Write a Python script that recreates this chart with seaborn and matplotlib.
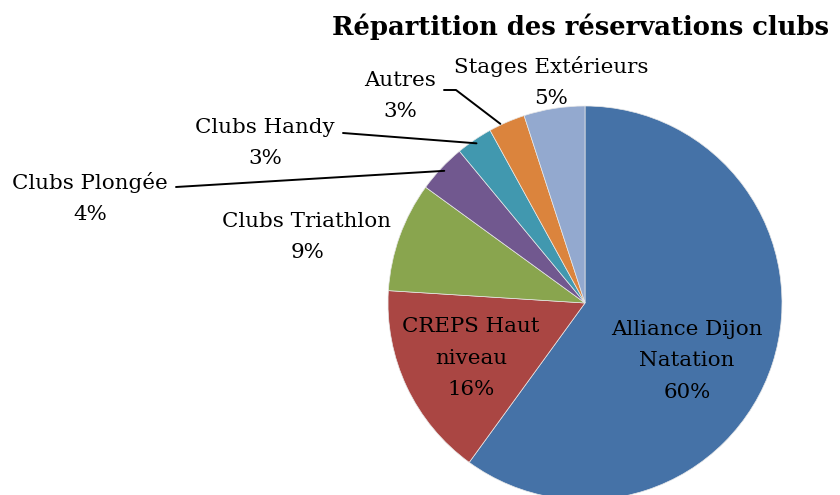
import numpy as np
import matplotlib
matplotlib.use("Agg")
import matplotlib.pyplot as plt
import seaborn as sns

categories = ["Alliance Dijon\nNatation", "CREPS Haut\nniveau", "Clubs Triathlon",
              "Clubs Plongée", "Clubs Handy", "Autres", "Stages Extérieurs"]
values = [60, 16, 9, 4, 3, 3, 5]
pct_labels = ["60%", "16%", "9%", "4%", "3%", "3%", "5%"]
colors = ["#4572A7", "#AA4643", "#89A54E", "#71588F", "#4198AF", "#DB843D", "#93A9CF"]
title = "Répartition des réservations clubs"

sns.set_theme(style="white")
plt.rcParams["font.family"] = ["DejaVu Serif"]

W, H = 840, 495
fig = plt.figure(figsize=(8.4, 4.95), dpi=100)
ax = fig.add_axes([0, 0, 1, 1])

cx, cy, R = 585, H - 303, 197
wedges, _ = ax.pie(values, colors=colors, startangle=90, counterclock=False,
                   center=(cx, cy), radius=R, frame=True,
                   wedgeprops=dict(linewidth=0.5, edgecolor="#e8e8e8"))
ax.set_xlim(0, W)
ax.set_ylim(0, H)
ax.set_aspect("equal")
ax.axis("off")

# label layout (pixel positions from top-left)
label_pos = [(687, 361), (471, 358), (307, 237), (90, 198), (265, 143), (400, 96), (551, 82)]
fs = 15.4
for i, (w, cat, pct) in enumerate(zip(wedges, categories, pct_labels)):
    x, ypx = label_pos[i]
    ax.text(x, H - ypx, f"{cat}\n{pct}", ha="center", va="center", fontsize=fs,
            linespacing=1.84, color="black")

# leader lines for small slices
def edge_point(w, frac=0.98):
    ang = np.deg2rad((w.theta1 + w.theta2) / 2)
    return cx + frac * R * np.cos(ang), cy + frac * R * np.sin(ang)

lw = 1.4
# Autres
ex, ey = edge_point(wedges[5])
ax.plot([444, 456, ex - 8], [H - 90, H - 90, ey + 2], color="black", lw=lw)
# Clubs Handy
ex, ey = edge_point(wedges[4])
ax.plot([343, ex], [H - 133, ey], color="black", lw=lw)
# Clubs Plongée
ex, ey = edge_point(wedges[3])
ax.plot([176, ex], [H - 187, ey], color="black", lw=lw)

ax.text(581, H - 27, title, ha="center", va="center", fontsize=18.6,
        fontweight="bold", color="black")

fig.savefig("out.png", dpi=100)
